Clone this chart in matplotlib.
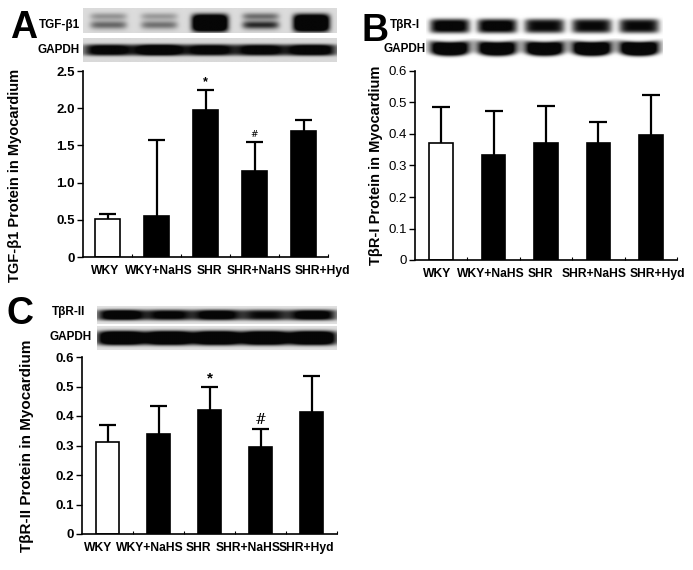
import numpy as np
import matplotlib
matplotlib.use("Agg")
import matplotlib.pyplot as plt

plt.rcParams['font.family'] = ['Liberation Sans', 'DejaVu Sans']

groups = ["WKY", "WKY+NaHS", "SHR", "SHR+NaHS", "SHR+Hyd"]
fills = ["white", "black", "black", "black", "black"]

tgf_mean = [0.51, 0.55, 1.98, 1.15, 1.69]
tgf_sd = [0.07, 1.02, 0.26, 0.40, 0.15]
tgf_marks = ["", "", "*", "#", ""]

tbr1_mean = [0.372, 0.334, 0.372, 0.372, 0.397]
tbr1_sd = [0.113, 0.139, 0.116, 0.066, 0.128]
tbr1_marks = ["", "", "", "", ""]

tbr2_mean = [0.313, 0.339, 0.420, 0.296, 0.412]
tbr2_sd = [0.057, 0.096, 0.077, 0.061, 0.123]
tbr2_marks = ["", "", "*", "#", ""]

# band intensities of the blot strips (relative darkness per lane)
blotA_top = [0.55, 0.5, 1.6, 0.85, 1.6]
blotA_gapdh = [1.2, 1.4, 1.2, 1.2, 1.3]
blotB_top = [1.1, 1.1, 1.0, 1.0, 1.0]
blotB_gapdh = [1.5, 1.5, 1.5, 1.6, 1.6]
blotC_top = [1.3, 1.1, 1.2, 1.0, 1.2]
blotC_gapdh = [1.6, 1.6, 1.6, 1.6, 1.6]

W, H = 693, 570
fig = plt.figure(figsize=(W / 100, H / 100), dpi=100)


def fr(x0, y0, x1, y1):
    return [x0 / W, 1 - y1 / H, (x1 - x0) / W, (y1 - y0) / H]


def bar_panel(rect, mean, sd, marks, ymax, step, ylabel, tickbold, ylab_xy, ylab_fs,
              letter_xy, letter, barw, lab_shift, mark_fs):
    ax = fig.add_axes(fr(*rect))
    x = np.arange(len(groups))
    ax.bar(x, mean, width=barw, color=fills, edgecolor="black", linewidth=1.2, zorder=2)
    tops = np.array(mean) + np.array(sd)
    ax.vlines(x, mean, tops, color="black", linewidth=1.6, zorder=1)
    ax.hlines(tops, x - 0.17, x + 0.17, color="black", linewidth=1.6, zorder=1)
    for xi, t, m in zip(x, tops, marks):
        if m:
            ax.text(xi, t + ymax * 0.012, m, ha="center", va="bottom",
                    fontsize=mark_fs[m], fontweight="bold" if m == "*" else "normal",
                    family=["DejaVu Serif"] if m == "#" else None)
    ax.set_xlim(-0.5, len(groups) - 0.5)
    ax.set_ylim(0, ymax)
    ticks = np.arange(0, ymax + step / 2, step)
    ax.set_yticks(ticks)
    ax.set_yticklabels(["0"] + ["{:.1f}".format(t) for t in ticks[1:]],
                       fontsize=9.5, fontweight="bold" if tickbold else "normal")
    ax.set_xticks(x + np.array(lab_shift))
    ax.set_xticklabels(groups, fontsize=8.7, fontweight="bold")
    ax.tick_params(axis="x", length=0, pad=6)
    ax.set_xticks(np.arange(0.5, len(groups), 1), minor=True)
    ax.tick_params(axis="x", which="minor", direction="in", length=2, width=0.8)
    ax.tick_params(axis="y", direction="out", length=4, width=1, pad=2)
    for s in ["top", "right"]:
        ax.spines[s].set_visible(False)
    for s in ["left", "bottom"]:
        ax.spines[s].set_linewidth(1.2)
    ax.set_ylabel(ylabel, fontsize=ylab_fs, fontweight="bold")
    ax.yaxis.set_label_coords(*ylab_xy)
    fig.text(letter_xy[0] / W, 1 - letter_xy[1] / H, letter, fontsize=27, fontweight="bold",
             ha="left", va="center")
    return ax


def blot(rect, strengths, yc, thick, halfw, bg, power=6, double=False, smile=0.0):
    ax = fig.add_axes(fr(*rect))
    xs = np.linspace(-0.5, 4.5, 600)
    ys = np.linspace(0, 1, 80)
    X, Y = np.meshgrid(xs, ys)
    dark = np.zeros_like(X)
    for i, s in enumerate(strengths):
        dx = (X - i) / halfw
        prof = np.exp(-np.abs(dx) ** power)
        yy = yc + smile * dx ** 2
        if double and s < 1.0:
            dark += s * prof * np.exp(-((Y - 0.68) / (thick * 0.6)) ** 2)
            dark += s * 0.6 * prof * np.exp(-((Y - 0.33) / (thick * 0.5)) ** 2)
        else:
            th = thick * (1.0 + 0.5 * max(s - 1.0, 0)) if double else thick
            dark += s * prof * np.exp(-((Y - yy) / th) ** 4)
    img = bg * (1 - np.clip(dark, 0, 1) * 0.97)
    ax.imshow(img, cmap="gray", vmin=0, vmax=1, extent=(-0.5, 4.5, 1, 0), aspect="auto",
              interpolation="bilinear")
    ax.set_axis_off()
    return ax


# Panel A
bar_panel((83, 71, 328, 257), tgf_mean, tgf_sd, tgf_marks, 2.5, 0.5,
          "TGF-β1 Protein in Myocardium", True, (-0.25, 0.44), 10.5, (10, 28), "A",
          0.53, [-0.05, 0.05, 0.07, 0.1, 0.38], {"*": 9, "#": 6.5})
blot((83, 8, 337, 33), blotA_top, 0.6, 0.28, 0.36, 0.86, double=True)
blot((83, 38, 337, 62), blotA_gapdh, 0.5, 0.24, 0.5, 0.85, power=4)
fig.text(39 / W, 1 - 25 / H, "TGF-β1", fontsize=8.5, fontweight="bold", ha="left", va="center")
fig.text(38 / W, 1 - 50 / H, "GAPDH", fontsize=8.5, fontweight="bold", ha="left", va="center")

# Panel B
bar_panel((415, 71, 677, 260), tbr1_mean, tbr1_sd, tbr1_marks, 0.6, 0.1,
          "TβR-I Protein in Myocardium", False, (-0.122, 0.5), 10.5, (361, 31), "B",
          0.45, [-0.08, -0.06, -0.1, -0.08, 0.13], {"*": 10, "#": 10})
blot((426, 14, 663, 38), blotB_top, 0.5, 0.3, 0.42, 1.0)
blot((426, 38, 663, 60), blotB_gapdh, 0.5, 0.32, 0.42, 1.0, power=4, smile=-0.08)
fig.text(390 / W, 1 - 25 / H, "TβR-I", fontsize=8.5, fontweight="bold", ha="left", va="center")
fig.text(383 / W, 1 - 49 / H, "GAPDH", fontsize=8.5, fontweight="bold", ha="left", va="center")

# Panel C
bar_panel((82, 357, 337, 534), tbr2_mean, tbr2_sd, tbr2_marks, 0.6, 0.1,
          "TβR-II Protein in Myocardium", True, (-0.19, 0.5), 11, (6, 314), "C",
          0.44, [-0.19, -0.16, -0.22, -0.24, -0.1], {"*": 11, "#": 10})
blot((97, 306, 337, 324), blotC_top, 0.5, 0.3, 0.5, 0.88, power=4)
blot((97, 326, 337, 350), blotC_gapdh, 0.5, 0.3, 0.5, 0.88, power=4)
fig.text(52 / W, 1 - 312 / H, "TβR-II", fontsize=8.5, fontweight="bold", ha="left", va="center")
fig.text(49 / W, 1 - 337 / H, "GAPDH", fontsize=8.5, fontweight="bold", ha="left", va="center")

fig.savefig("out.png", dpi=100)
